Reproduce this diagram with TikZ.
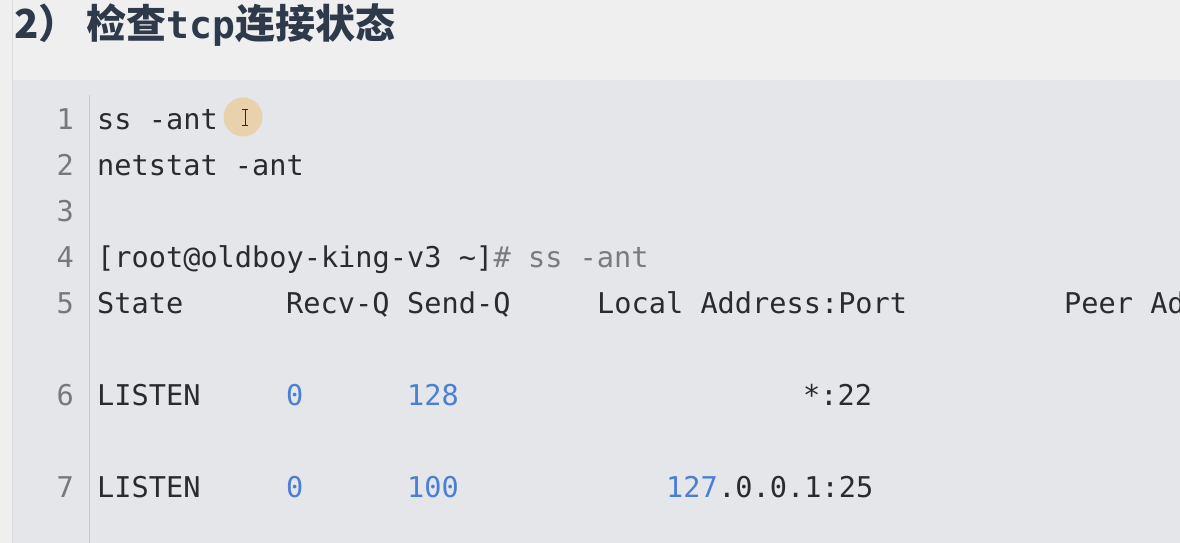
\documentclass[tikz,border=0pt]{standalone}
\usepackage{fontspec}
\setmonofont{DejaVu Sans Mono}
\newfontfamily\cjk{Noto Sans CJK SC}
\newfontfamily\titlemono{DejaVu Sans Mono}
\definecolor{outerbg}{HTML}{EFEFF0}
\definecolor{codebg}{HTML}{E5E6EA}
\definecolor{edge}{HTML}{DCDCDE}
\definecolor{sep}{HTML}{C9CACE}
\definecolor{titlecol}{HTML}{2E3A4A}
\definecolor{codetext}{HTML}{2A2B2E}
\definecolor{numcol}{HTML}{777879}
\definecolor{greytext}{HTML}{7A7B7E}
\definecolor{bluenum}{HTML}{4A7FD4}
\definecolor{cursorcol}{HTML}{E9D1AC}
\tikzset{
  code/.style={anchor=base west, inner sep=0pt, font=\ttfamily\fontsize{28.6}{30}\selectfont, text=codetext},
  blue/.style={code, text=bluenum},
  grey/.style={code, text=greytext},
  lnum/.style={anchor=base east, inner sep=0pt, font=\ttfamily\fontsize{28.6}{30}\selectfont, text=numcol},
  ttl/.style={anchor=base west, inner sep=0pt, text=titlecol},
  beam/.style={draw=codetext, line width=1pt}
}
\begin{document}
\begin{tikzpicture}[x=1pt,y=-1pt]
\useasboundingbox (0,0) rectangle (1180,543);
% backgrounds
\fill[outerbg] (0,0) rectangle (1180,543);
\fill[codebg] (13,80) rectangle (1180,543);
\draw[edge, line width=1pt] (12,0) -- (12,543);
\draw[sep, line width=1.2pt] (89.5,95) -- (89.5,543);
% title
\node[ttl, font=\cjk\bfseries\fontsize{40}{44}\selectfont] (t1) at (14,38) {2）};
\node[ttl, font=\cjk\bfseries\fontsize{40}{44}\selectfont] (t2) at (86,38) {检查};
\node[ttl, font=\titlemono\bfseries\fontsize{38}{44}\selectfont] (t3) at (t2.base east) {tcp};
\node[ttl, font=\cjk\bfseries\fontsize{40}{44}\selectfont] (t4) at (t3.base east) {连接状态};
% line numbers
\node[lnum] (n1) at (74,129) {1};
\node[lnum] (n2) at (74,175) {2};
\node[lnum] (n3) at (74,221) {3};
\node[lnum] (n4) at (74,267) {4};
\node[lnum] (n5) at (74,313) {5};
\node[lnum] (n6) at (74,405) {6};
\node[lnum] (n7) at (74,497) {7};
% cursor
\fill[cursorcol] (243,117) circle (19.5);
\coordinate (cur) at (245,117);
\draw[beam] ([yshift=-8]cur) -- ([yshift=8]cur);
\draw[beam] ([xshift=-3,yshift=-8]cur) -- ([xshift=3,yshift=-8]cur);
\draw[beam] ([xshift=-3,yshift=8]cur) -- ([xshift=3,yshift=8]cur);
% line 1-2
\node[code] (l1) at (97,129) {ss -ant};
\node[code] (l2) at (97,175) {netstat -ant};
% line 4
\node[code] (l4a) at (97,267) {[root@oldboy-king-v3 \textasciitilde]};
\node[grey] (l4b) at (l4a.base east) {\# ss -ant};
% line 5
\node[code] (h1) at (97,313) {State};
\node[code] (h2) at (286,313) {Recv-Q};
\node[code] (h3) at (407,313) {Send-Q};
\node[code] (h4) at (597,313) {Local Address:Port};
\node[code] (h5) at (1064,313) {Peer Ad};
% line 6
\node[code] (a1) at (97,405) {LISTEN};
\node[blue] (a2) at (286,405) {0};
\node[blue] (a3) at (407,405) {128};
\node[code] (a4) at (803,405) {*:22};
% line 7
\node[code] (b1) at (97,497) {LISTEN};
\node[blue] (b2) at (286,497) {0};
\node[blue] (b3) at (407,497) {100};
\node[blue] (b4) at (666,497) {127};
\node[code] (b5) at (b4.base east) {.0.0.1:25};
\end{tikzpicture}
\end{document}
